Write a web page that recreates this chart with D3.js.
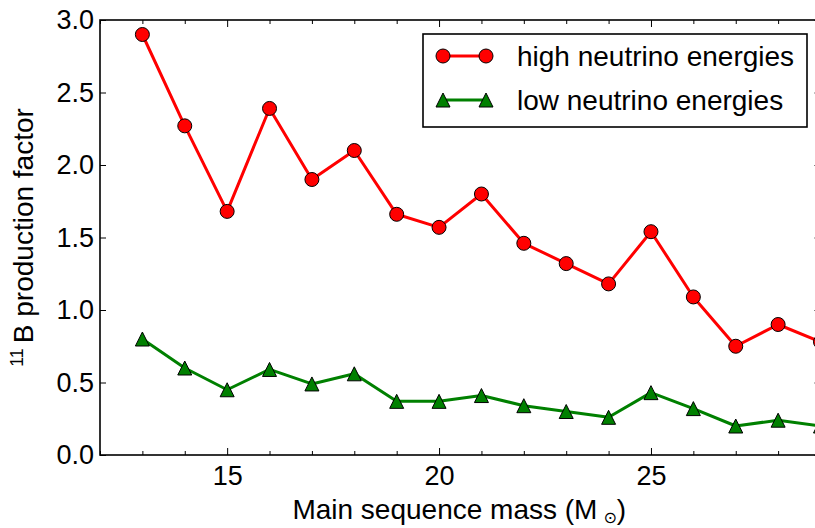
<!DOCTYPE html>
<html>
<head>
<meta charset="utf-8">
<script src="https://cdn.jsdelivr.net/npm/d3@7"></script>
<style>
  body { margin: 0; background: #fff; }
  text { font-family: "Liberation Sans", Arial, Helvetica, sans-serif; fill: #000; }
</style>
</head>
<body>
<svg id="chart" width="815" height="528"></svg>
<script>
// Main sequence masses (solar masses)
const masses = [13, 14, 15, 16, 17, 18, 19, 20, 21, 22, 23, 24, 25, 26, 27, 28, 29];
// 11B production factor, high neutrino energies
const highEnergy = [2.90, 2.27, 1.68, 2.39, 1.90, 2.10, 1.66, 1.57, 1.80, 1.46, 1.32, 1.18, 1.54, 1.09, 0.75, 0.90, 0.78];
// 11B production factor, low neutrino energies
const lowEnergy = [0.80, 0.60, 0.45, 0.59, 0.49, 0.56, 0.37, 0.37, 0.41, 0.34, 0.30, 0.26, 0.43, 0.32, 0.20, 0.24, 0.20];
const xMajorTicks = [15, 20, 25];
const xMinorTicks = [12, 13, 14, 16, 17, 18, 19, 21, 22, 23, 24, 26, 27, 28, 29];
const yTicks = [0.0, 0.5, 1.0, 1.5, 2.0, 2.5, 3.0];
const seriesNames = ["high neutrino energies", "low neutrino energies"];

const svg = d3.select("#chart");
const mLeft = 100, mRight = 820.5, mTop = 20, mBottom = 455;

const x = d3.scaleLinear().domain([12, 29]).range([mLeft, mRight]);
const y = d3.scaleLinear().domain([0, 3]).range([mBottom, mTop]);

const red = "#ff0000", green = "#008000";

// clip region for the data marks
svg.append("defs").append("clipPath").attr("id", "plotClip")
  .append("rect").attr("x", mLeft).attr("y", mTop)
  .attr("width", mRight - mLeft).attr("height", mBottom - mTop);

// axes with inward ticks on all four sides
const tickLabelFont = 27;
function styleAxis(g) {
  g.select(".domain").remove();
  g.selectAll("line").attr("stroke", "#000").attr("stroke-width", 1);
}

// bottom: major with labels
svg.append("g").attr("transform", `translate(0,${mBottom})`)
  .call(d3.axisBottom(x).tickValues(xMajorTicks).tickSizeInner(-7).tickSizeOuter(0).tickFormat(d3.format("d")))
  .call(styleAxis)
  .call(g => g.selectAll("text").attr("font-size", tickLabelFont)
    .attr("font-family", "Liberation Sans, Arial, sans-serif").attr("y", 11).attr("dy", "0.71em"));
// bottom minor
svg.append("g").attr("transform", `translate(0,${mBottom})`)
  .call(d3.axisBottom(x).tickValues(xMinorTicks).tickSizeInner(-4).tickSizeOuter(0).tickFormat(""))
  .call(styleAxis);
// top major/minor
svg.append("g").attr("transform", `translate(0,${mTop})`)
  .call(d3.axisTop(x).tickValues(xMajorTicks).tickSizeInner(-7).tickSizeOuter(0).tickFormat(""))
  .call(styleAxis);
svg.append("g").attr("transform", `translate(0,${mTop})`)
  .call(d3.axisTop(x).tickValues(xMinorTicks).tickSizeInner(-4).tickSizeOuter(0).tickFormat(""))
  .call(styleAxis);
// left with labels
svg.append("g").attr("transform", `translate(${mLeft},0)`)
  .call(d3.axisLeft(y).tickValues(yTicks).tickSizeInner(-6).tickSizeOuter(0).tickFormat(d3.format(".1f")))
  .call(styleAxis)
  .call(g => g.selectAll("text").attr("font-size", tickLabelFont)
    .attr("font-family", "Liberation Sans, Arial, sans-serif").attr("x", -6));
// right
svg.append("g").attr("transform", `translate(${mRight},0)`)
  .call(d3.axisRight(y).tickValues(yTicks).tickSizeInner(-6).tickSizeOuter(0).tickFormat(""))
  .call(styleAxis);

// frame
svg.append("rect").attr("x", mLeft).attr("y", mTop)
  .attr("width", mRight - mLeft).attr("height", mBottom - mTop)
  .attr("fill", "none").attr("stroke", "#000").attr("stroke-width", 1.6);

// data
const plot = svg.append("g").attr("clip-path", "url(#plotClip)");
const line = d3.line().x((d, i) => x(masses[i])).y(d => y(d));

const triSize = 14;
const triPath = s => `M0,${-s/2}L${s/2},${s/2}L${-s/2},${s/2}Z`;

plot.append("path").datum(highEnergy).attr("d", line)
  .attr("fill", "none").attr("stroke", red).attr("stroke-width", 3).attr("stroke-linejoin", "round");
plot.append("path").datum(lowEnergy).attr("d", line)
  .attr("fill", "none").attr("stroke", green).attr("stroke-width", 3).attr("stroke-linejoin", "round");

plot.selectAll("circle.hi").data(highEnergy).join("circle")
  .attr("class", "hi")
  .attr("cx", (d, i) => x(masses[i])).attr("cy", d => y(d)).attr("r", 7)
  .attr("fill", red).attr("stroke", "#000").attr("stroke-width", 1);

plot.selectAll("path.lo").data(lowEnergy).join("path")
  .attr("class", "lo")
  .attr("d", triPath(triSize))
  .attr("transform", (d, i) => `translate(${x(masses[i])},${y(d)})`)
  .attr("fill", green).attr("stroke", "#000").attr("stroke-width", 1);

// legend
const lg = svg.append("g");
lg.append("rect").attr("x", 423).attr("y", 34).attr("width", 384).attr("height", 93)
  .attr("fill", "#fff").attr("stroke", "#000").attr("stroke-width", 1.6);
const rows = [{ name: seriesNames[0], color: red, mark: "circle", yy: 56 },
              { name: seriesNames[1], color: green, mark: "tri", yy: 100 }];
rows.forEach(r => {
  lg.append("line").attr("x1", 443).attr("x2", 486).attr("y1", r.yy).attr("y2", r.yy)
    .attr("stroke", r.color).attr("stroke-width", 3);
  [443, 486].forEach(cx => {
    if (r.mark === "circle") {
      lg.append("circle").attr("cx", cx).attr("cy", r.yy).attr("r", 7)
        .attr("fill", r.color).attr("stroke", "#000").attr("stroke-width", 1);
    } else {
      lg.append("path").attr("d", triPath(triSize)).attr("transform", `translate(${cx},${r.yy})`)
        .attr("fill", r.color).attr("stroke", "#000").attr("stroke-width", 1);
    }
  });
  lg.append("text").attr("x", 517).attr("y", r.yy).attr("dy", "0.35em")
    .attr("font-size", 28).text(r.name);
});

// axis titles
const xt = svg.append("text").attr("x", (mLeft + mRight) / 2 - 1).attr("y", 519)
  .attr("text-anchor", "middle").attr("font-size", 28);
xt.append("tspan").text("Main sequence mass (M");
xt.append("tspan").attr("dx", 6).attr("dy", 4).attr("font-size", 16)
  .attr("font-family", "DejaVu Sans").text("\u2299");
xt.append("tspan").attr("dy", -4).text(")");

const yt = svg.append("text")
  .attr("transform", `translate(33,${(mTop + mBottom) / 2}) rotate(-90)`)
  .attr("text-anchor", "middle").attr("font-size", 28);
yt.append("tspan").attr("dy", -10).attr("font-size", 18).text("11");
yt.append("tspan").attr("dy", 10).attr("dx", 5).text("B production factor");
</script>
</body>
</html>
